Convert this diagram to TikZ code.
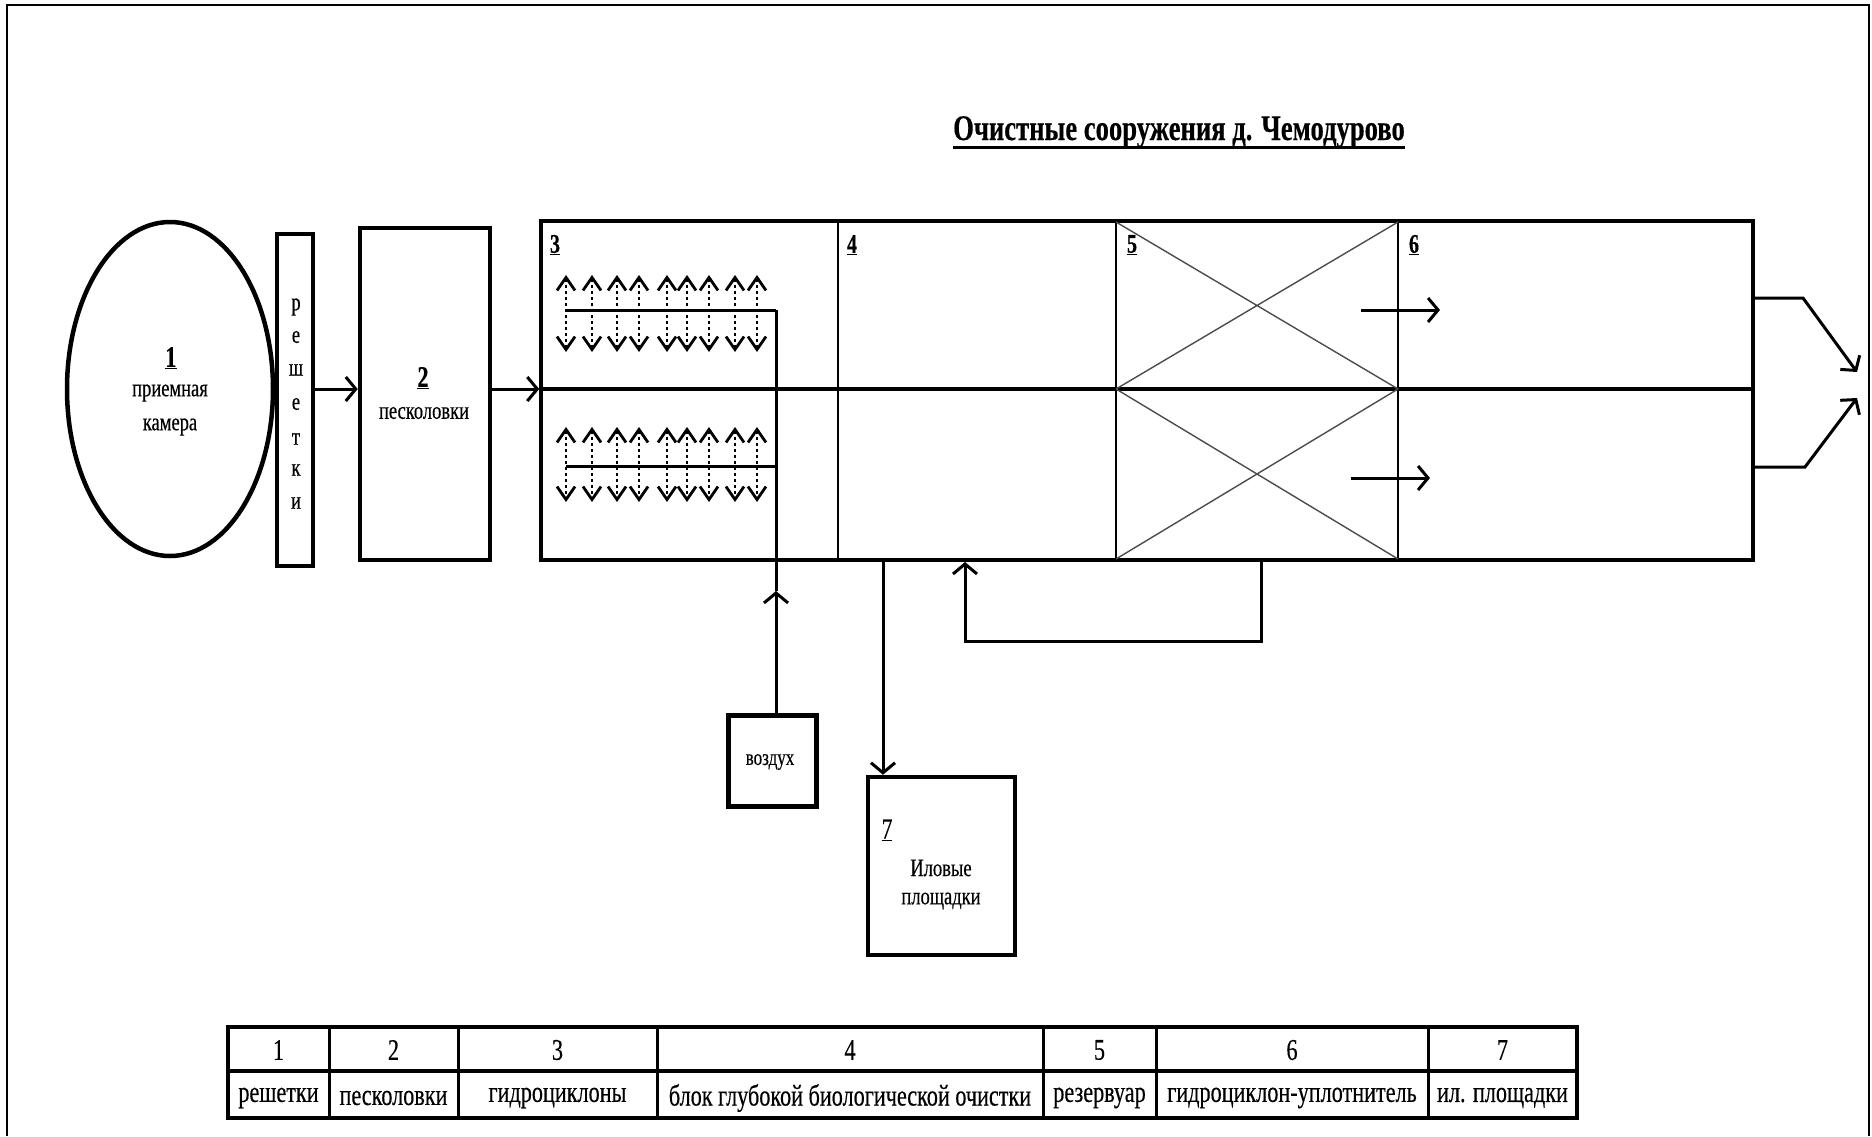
\documentclass[tikz,border=0pt]{standalone}
\usepackage{fontspec}
\setmainfont{Liberation Serif}[FakeStretch=0.74,FakeBold=0.35]
\usetikzlibrary{arrows.meta,shapes.geometric}
\newcommand\fsz[1]{\fontsize{#1}{#1}\selectfont}
\begin{document}
\begin{tikzpicture}[x=1pt,y=-1pt,line join=miter,
  thickbox/.style={draw,line width=4.5pt,inner sep=0pt},
  conn/.style={line width=3pt},
  barb/.style={line width=3pt,-{Straight Barb[length=10pt,width=24pt,line width=3pt]}},
  aer/.style={line width=2.2pt,dash pattern=on 3pt off 3pt,
     {Straight Barb[length=13pt,width=18pt,line width=2.8pt]}-{Straight Barb[length=13pt,width=18pt,line width=2.8pt]}},
  lbl/.style={font=\fsz{25},inner sep=0pt},
  num/.style={font=\bfseries\fsz{29},inner sep=0pt},
  tab/.style={font=\fsz{30},inner sep=0pt}]
\useasboundingbox (0,0) rectangle (1872,1136);
\fill[white] (0,0) rectangle (1872,1136);
% page frame
\draw[line width=1.5pt] (7,1136) -- (7,5) -- (1869,5) -- (1869,1136);

% title
\node[font=\bfseries\fsz{36},inner sep=0pt,anchor=base] (title) at (1179,140) {Очистные сооружения д. Чемодурово};
\draw[line width=3pt] ([yshift=-7pt]title.base west) -- ([yshift=-7pt]title.base east);

% 1 receiving chamber
\node[thickbox,ellipse,minimum width=206pt,minimum height=334pt] (cam) at (170,389) {};
\node[num,font=\bfseries\fsz{30}] (cam1) at (171,358) {\underline{1}};
\node[lbl] (camt1) at (170,393) {приемная};
\node[lbl] (camt2) at (170,427) {камера};

% screens
\node[thickbox,minimum width=36pt,minimum height=332pt] (resh) at (295,400) {};
\foreach \ch/\yy [count=\i] in {р/307,е/337,ш/370,е/404,т/439,к/470,и/503}
  \node[lbl] (rl\i) at (296,\yy) {\ch};

% 2 sand traps
\node[thickbox,minimum width=130pt,minimum height=332pt] (sand) at (425,394) {};
\node[num,font=\bfseries\fsz{30}] (sand1) at (423,378) {\underline{2}};
\node[lbl] (sandt) at (424,413) {песколовки};

% main block
\node[draw,line width=3.5pt,minimum width=1212pt,minimum height=339pt,inner sep=0pt] (main) at (1147,390.5) {};
\coordinate (mid) at (0,389);
\draw[line width=4.5pt] (main.west |- mid) -- (main.east |- mid);
\foreach \xx in {838,1116,1398}
  \draw[line width=2.5pt] (\xx,221) -- (\xx,560);

% connectors from 1 to 2 to main
\draw[barb] (resh.east |- mid) -- (sand.west |- mid);
\draw[barb] (sand.east |- mid) -- (main.west |- mid);

% cell labels
\node[num,font=\bfseries\fsz{27}] (n3) at (555,245) {\underline{3}};
\node[num,font=\bfseries\fsz{27}] (n4) at (852,245) {\underline{4}};
\node[num,font=\bfseries\fsz{27}] (n5) at (1132,245) {\underline{5}};
\node[num,font=\bfseries\fsz{27}] (n6) at (1414,245) {\underline{6}};

% crosses in 5
\draw[line width=1.4pt,black!70] (1116,222) -- (1398,389) (1116,389) -- (1398,222)
  (1116,389) -- (1398,559) (1116,559) -- (1398,389);

% aeration
\foreach \xx in {566,592,617,639,667,687,709,735,757}{
  \draw[aer] (\xx,275) -- (\xx,352);
  \draw[aer] (\xx,427) -- (\xx,502);
}
\coordinate (aerU) at (776,310);
\coordinate (aerL) at (776,466);
\draw[conn] (566,310) -- (aerU);
\draw[conn] (566,466) -- (aerL);

% air
\node[thickbox,minimum width=88pt,minimum height=91pt] (air) at (772.5,761) {};
\node[lbl,font=\fsz{23}] (airt) at (770,762) {воздух};
\coordinate (airtip) at (776,591);
\draw[barb] (air.north -| aerU) -- (airtip);
\draw[conn] (airtip) -- (aerU);

% 7 sludge beds
\node[thickbox,minimum width=147pt,minimum height=178pt] (beds) at (941.5,866) {};
\node[lbl,font=\fsz{29}] (beds1) at (887,830) {\underline{7}};
\node[lbl] (bedst1) at (941,868) {Иловые};
\node[lbl] (bedst2) at (941,901) {площадки};
\coordinate (out4) at (883,560);
\draw[barb] (out4) -- (beds.north -| out4);

% return loop
\coordinate (r5) at (1261,560);
\coordinate (r5b) at (1261,641);
\coordinate (r4b) at (965,641);
\coordinate (r4) at (965,562);
\draw[barb] (r5) -- (r5b) -- (r4b) -- (r4);

% arrows in 6
\coordinate (a6us) at (1361,310); \coordinate (a6ue) at (1440,310);
\coordinate (a6ls) at (1351,478); \coordinate (a6le) at (1430,478);
\draw[barb] (a6us) -- (a6ue);
\draw[barb] (a6ls) -- (a6le);

% exit
\coordinate (ex1) at (1803,298); \coordinate (ex2) at (1805,467);
\coordinate (exU) at (1857,372); \coordinate (exL) at (1857,398);
\draw[barb] (main.east |- ex1) -- (ex1) -- (exU);
\draw[barb] (main.east |- ex2) -- (ex2) -- (exL);

% legend table
\draw[line width=4.5pt] (228,1027) rectangle (1577,1118);
\draw[line width=4.5pt] (228,1071) -- (1577,1071);
\foreach \xx in {329,458,657,1043,1156,1428}
  \draw[line width=3pt] (\xx,1027) -- (\xx,1118);
\foreach \a/\b/\n/\t [count=\i] in {228/329/1/решетки,329/458/2/песколовки,458/657/3/гидроциклоны,
   657/1043/4/блок глубокой биологической очистки,1043/1156/5/резервуар,
   1156/1428/6/гидроциклон-уплотнитель,1428/1577/7/ил. площадки}{
  \node[tab] (th\i) at ({(\a+\b)/2},1050) {\n};
  \node[tab] (td\i) at ({(\a+\b)/2},1098) {\t};
}
\end{tikzpicture}
\end{document}
